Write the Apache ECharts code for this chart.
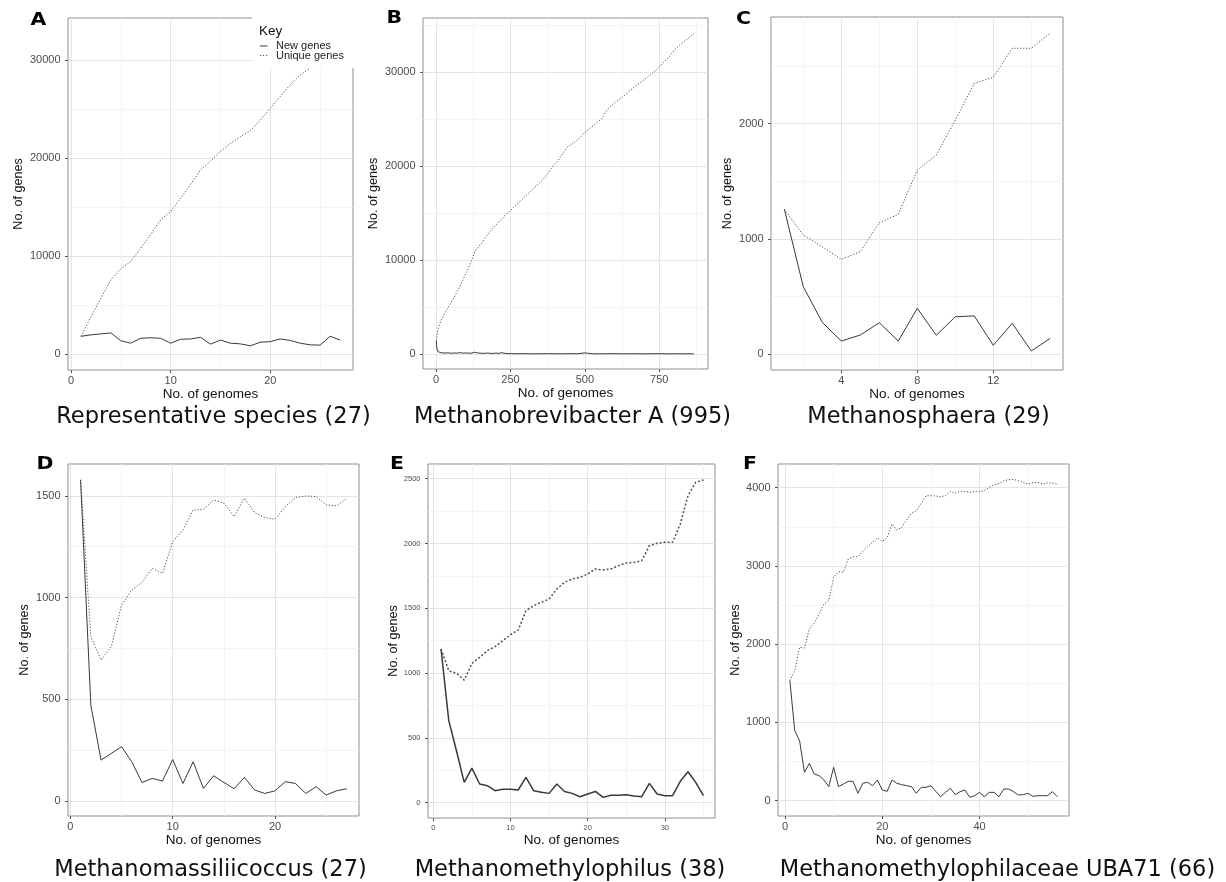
<!DOCTYPE html>
<html>
<head>
<meta charset="utf-8">
<script src="https://cdn.jsdelivr.net/npm/echarts@6/dist/echarts.min.js"></script>
<style>
  html, body { margin: 0; padding: 0; background: #fff; }
  #chart { width: 1226px; height: 882px; }
</style>
</head>
<body>
<div id="chart"></div>
<script>
// ---------------- data ----------------
const titles = [
  'Representative species (27)',
  'Methanobrevibacter A (995)',
  'Methanosphaera (29)',
  'Methanomassiliicoccus (27)',
  'Methanomethylophilus (38)',
  'Methanomethylophilaceae UBA71 (66)'
];
const letters = ['A', 'B', 'C', 'D', 'E', 'F'];
const seriesNames = ['New genes', 'Unique genes'];

// A: representative species, genomes 1..27
const repNew = [1800, 1950, 2050, 2150, 1350, 1100, 1600, 1650, 1600, 1100, 1500, 1530, 1700, 1000, 1420,
  1100, 1030, 830, 1200, 1260, 1530, 1380, 1100, 930, 900, 1800, 1420];
const repUnique = [1800, 3800, 5700, 7550, 8700, 9450, 10800, 12200, 13700, 14550, 15900, 17300, 18800, 19700,
  20700, 21500, 22200, 22800, 23900, 25100, 26300, 27500, 28500, 29200, 30600, 32000, 33400];

// B: Methanobrevibacter A
const mbaUniqueGenomes = [1, 5, 10, 20, 30, 45, 60, 75, 90, 105, 120, 130, 140, 155, 170, 185, 200, 215, 230, 245,
  260, 280, 300, 320, 340, 360, 375, 392, 410, 425, 440, 460, 480, 500, 520, 540, 556, 575, 600, 625,
  650, 675, 700, 720, 740, 760, 780, 800, 820, 840, 866];
const mbaUnique = [1450, 2400, 3000, 3800, 4400, 5200, 6000, 6900, 7900, 8900, 10000, 10900, 11300, 11900, 12600,
  13200, 13700, 14200, 14700, 15100, 15600, 16200, 16800, 17400, 18000, 18600, 19200, 20000, 20600, 21300,
  22000, 22400, 22900, 23600, 24100, 24600, 25000, 26000, 26700, 27300, 28000, 28600, 29200, 29700, 30200,
  30900, 31500, 32300, 32900, 33400, 34100];
const mbaNewGenomes = [1, 2, 3, 4, 6, 8, 12, 16, 20, 30, 40, 50, 60, 70, 80, 90, 100, 110, 120, 130, 140, 150, 160,
  170, 180, 190, 200, 210, 220, 235, 250, 275, 300, 325, 350, 375, 400, 425, 450, 475, 500, 525, 550, 575,
  600, 625, 650, 675, 700, 725, 750, 775, 800, 825, 850, 866];
const mbaNew = [1450, 1000, 650, 450, 300, 240, 200, 170, 150, 130, 160, 110, 140, 120, 180, 120, 150, 110, 130,
  220, 140, 120, 100, 130, 110, 90, 120, 100, 170, 80, 70, 60, 70, 50, 60, 70, 60, 50, 70, 60, 150, 60, 50,
  60, 70, 50, 60, 60, 50, 60, 70, 50, 60, 50, 60, 40];

// C: Methanosphaera, genomes 1..15
const msphNew = [1260, 586, 277, 115, 167, 274, 115, 399, 165, 326, 333, 78, 269, 29, 139];
const msphUnique = [1258, 1035, 933, 824, 890, 1141, 1214, 1598, 1728, 2032, 2350, 2402, 2654, 2654, 2784];

// D: Methanomassiliicoccus, genomes 1..27
const mmasNew = [1579, 471, 200, 233, 266, 192, 90, 110, 97, 203, 85, 192, 61, 123, 90, 59, 115, 53, 36, 49,
  94, 85, 36, 69, 28, 49, 59];
const mmasUnique = [1579, 807, 692, 758, 963, 1037, 1075, 1144, 1119, 1275, 1333, 1431, 1434, 1480, 1464, 1398,
  1488, 1418, 1393, 1385, 1447, 1492, 1500, 1497, 1456, 1451, 1488];

// E: Methanomethylophilus, genomes 1..35
const mmetNew = [1186, 633, 401, 157, 267, 144, 131, 93, 103, 103, 98, 195, 93, 80, 72, 144, 87, 72, 46, 67,
  87, 41, 57, 57, 62, 51, 46, 149, 67, 54, 54, 165, 239, 157, 54];
const mmetUnique = [1186, 1018, 998, 946, 1075, 1121, 1173, 1204, 1250, 1296, 1332, 1481, 1520, 1546, 1571, 1649,
  1700, 1726, 1739, 1764, 1803, 1795, 1803, 1829, 1849, 1854, 1867, 1983, 2001, 2009, 2009, 2150, 2369,
  2472, 2490];

// F: Methanomethylophilaceae UBA71, genomes 1..56
const ubaNew = [1534, 895, 767, 362, 477, 341, 320, 264, 179, 426, 179, 213, 247, 247, 94, 222, 234, 192, 264,
  136, 119, 264, 222, 204, 192, 179, 94, 170, 170, 192, 119, 51, 106, 158, 77, 115, 136, 43, 64, 106, 51,
  106, 106, 51, 149, 149, 115, 72, 77, 94, 55, 64, 64, 64, 115, 51];
const ubaUnique = [1534, 1661, 1960, 1951, 2194, 2266, 2386, 2513, 2556, 2854, 2927, 2918, 3089, 3118, 3118,
  3186, 3246, 3302, 3357, 3314, 3357, 3536, 3459, 3493, 3587, 3672, 3706, 3800, 3898, 3898, 3894, 3885,
  3898, 3953, 3928, 3953, 3953, 3940, 3953, 3953, 3962, 4004, 4038, 4055, 4090, 4102, 4107, 4090, 4068,
  4047, 4064, 4068, 4047, 4064, 4060, 4047];

// major tick values of each panel
const repXTicks = [0, 10, 20], repYTicks = [0, 10000, 20000, 30000];
const mbaXTicks = [0, 250, 500, 750], mbaYTicks = [0, 10000, 20000, 30000];
const msphXTicks = [4, 8, 12], msphYTicks = [0, 1000, 2000];
const mmasXTicks = [0, 10, 20], mmasYTicks = [0, 500, 1000, 1500];
const mmetXTicks = [0, 10, 20, 30], mmetYTicks = [0, 500, 1000, 1500, 2000, 2500];
const ubaXTicks = [0, 20, 40], ubaYTicks = [0, 1000, 2000, 3000, 4000];

// ---------------- helpers ----------------
const seq = (vals) => vals.map((v, i) => [i + 1, v]);
const zip = (xs, ys) => xs.map((x, i) => [x, ys[i]]);

// grid lines halfway between the labelled ones
function minorsOf(major, min, max) {
  const step = major[1] - major[0];
  const out = [];
  for (let v = major[0] - step / 2; v <= max; v += step) if (v >= min) out.push(v);
  return out;
}

// ---------------- layout ----------------
const panels = [
  { left: 68, top: 18, width: 285, height: 352, x: [-0.3, 28.3], y: [-1640, 34320],
    xt: repXTicks, yt: repYTicks, yGap: 43, xGap: 16, font: 11, xMargin: 5,
    data: [seq(repNew), seq(repUnique)] },
  { left: 423, top: 18, width: 285, height: 351, x: [-43.7, 913.6], y: [-1562, 35738],
    xt: mbaXTicks, yt: mbaYTicks, yGap: 43, xGap: 16, font: 11, xMargin: 5,
    data: [zip(mbaNewGenomes, mbaNew), zip(mbaUniqueGenomes, mbaUnique)] },
  { left: 771, top: 17, width: 292, height: 353, x: [0.3, 15.67], y: [-136, 2925],
    xt: msphXTicks, yt: msphYTicks, yGap: 37, xGap: 16, font: 11, xMargin: 5,
    data: [seq(msphNew), seq(msphUnique)] },
  { left: 68, top: 464, width: 291, height: 352, x: [-0.23, 28.2], y: [-75, 1657],
    xt: mmasXTicks, yt: mmasYTicks, yGap: 36.5, xGap: 16.5, font: 11, xMargin: 5,
    data: [seq(mmasNew), seq(mmasUnique)] },
  { left: 428, top: 464, width: 287, height: 354, x: [-0.69, 36.5], y: [-118, 2613],
    xt: mmetXTicks, yt: mmetYTicks, yGap: 24, xGap: 14.5, font: 7.5, xMargin: 6, bold: true,
    data: [seq(mmetNew), seq(mmetUnique)] },
  { left: 778, top: 464, width: 291, height: 352, x: [-1.44, 58.4], y: [-196, 4303],
    xt: ubaXTicks, yt: ubaYTicks, yGap: 36, xGap: 16.5, font: 11, xMargin: 5,
    data: [seq(ubaNew), seq(ubaUnique)] }
];

const titlePos = [[213.5, 417.5], [572.5, 417.5], [928.5, 417.5], [210.5, 870], [570, 870], [997.5, 870]];
const letterPos = [[30.5, 21], [386.5, 18.5], [736, 19.2], [36.5, 465], [390, 464.5], [743, 464.5]];

const lineStyles = {
  solid: { color: '#3a3a3a', dash: null },
  dotted: { color: '#505050', dash: [1.2, 1.8] }
};

const grids = [], xAxes = [], yAxes = [], series = [];

panels.forEach((p, i) => {
  grids.push({
    left: p.left, top: p.top, width: p.width, height: p.height,
    show: true, borderColor: '#8f8f8f', borderWidth: 1,
    containLabel: false, outerBoundsMode: 'none'
  });

  const axisFor = (dim) => {
    const isX = dim === 'x';
    const range = isX ? p.x : p.y;
    const ticks = isX ? p.xt : p.yt;
    return [{
      type: 'value', gridIndex: i, min: range[0], max: range[1],
      position: isX ? 'bottom' : 'left',
      axisLine: { show: false, onZero: false },
      axisTick: { show: true, length: 3, lineStyle: { color: '#555', width: 1 }, customValues: ticks },
      axisLabel: {
        show: true, customValues: ticks, margin: isX ? p.xMargin : 7.5,
        color: '#4d4d4d', fontSize: p.font, fontFamily: 'Liberation Sans',
        formatter: (v) => String(v)
      },
      splitLine: { show: true, lineStyle: { color: '#e4e4e4', width: 1 } },
      minorTick: { show: false }, minorSplitLine: { show: false },
      name: isX ? 'No. of genomes' : 'No. of genes',
      nameLocation: 'middle', nameGap: isX ? p.xGap : p.yGap,
      nameTextStyle: { color: '#111', fontSize: isX ? 13.5 : 12.6, fontFamily: 'Liberation Sans' },
      silent: true
    }, {
      type: 'value', gridIndex: i, min: range[0], max: range[1],
      position: isX ? 'top' : 'right',
      axisLine: { show: false, onZero: false },
      axisTick: { show: false, customValues: minorsOf(ticks, range[0], range[1]) },
      axisLabel: { show: false, customValues: minorsOf(ticks, range[0], range[1]) },
      splitLine: { show: true, lineStyle: { color: '#f1f1f1', width: 0.8 } },
      silent: true
    }];
  };
  xAxes.push(...axisFor('x'));
  yAxes.push(...axisFor('y'));

  const w = p.bold ? 1.5 : 1;
  series.push({
    type: 'line', name: seriesNames[0], data: p.data[0],
    xAxisIndex: 2 * i, yAxisIndex: 2 * i,
    symbol: 'none', showSymbol: false, silent: true, animation: false,
    color: lineStyles.solid.color,
    lineStyle: { color: lineStyles.solid.color, width: w, type: 'solid' }
  }, {
    type: 'line', name: seriesNames[1], data: p.data[1],
    xAxisIndex: 2 * i, yAxisIndex: 2 * i,
    symbol: 'none', showSymbol: false, silent: true, animation: false,
    color: lineStyles.dotted.color,
    lineStyle: { color: lineStyles.dotted.color, width: w, type: p.bold ? [2, 2] : lineStyles.dotted.dash }
  });
});

const graphics = [];
titles.forEach((t, i) => {
  graphics.push({
    type: 'text', x: titlePos[i][0], y: titlePos[i][1], silent: true,
    style: { text: t, fill: '#111', font: '22.5px "DejaVu Sans"', textAlign: 'center', textVerticalAlign: 'middle' }
  });
});
letters.forEach((t, i) => {
  graphics.push({
    type: 'text', x: letterPos[i][0], y: letterPos[i][1], scaleX: 1.2, silent: true,
    style: { text: t, fill: '#000', font: 'bold 17px "DejaVu Sans"', textAlign: 'left', textVerticalAlign: 'middle' }
  });
});

// key box laid over the top-right corner of panel A
graphics.push({
  type: 'rect', z: 10, silent: true,
  shape: { x: 252, y: 14, width: 104, height: 54 },
  style: { fill: '#fff' }
});
graphics.push({
  type: 'text', z: 21, x: 259, y: 31.5, silent: true,
  style: { text: 'Key', fill: '#111', font: '13.5px "Liberation Sans"', textAlign: 'left', textVerticalAlign: 'middle' }
});
[['solid', 46], ['dotted', 55.5]].forEach(([kind, y], k) => {
  const st = lineStyles[kind];
  graphics.push({
    type: 'line', z: 21, silent: true,
    shape: { x1: 260, y1: y, x2: 267.5, y2: y },
    style: { stroke: st.color, lineWidth: 1, lineDash: st.dash }
  });
  graphics.push({
    type: 'text', z: 21, x: 276, y: y, silent: true,
    style: { text: seriesNames[k], fill: '#222', font: '11px "Liberation Sans"', textAlign: 'left', textVerticalAlign: 'middle' }
  });
});

const chart = echarts.init(document.getElementById('chart'), null, { renderer: 'canvas' });
chart.setOption({
  animation: false,
  backgroundColor: '#fff',
  grid: grids,
  xAxis: xAxes,
  yAxis: yAxes,
  series: series,
  graphic: graphics
});
</script>
</body>
</html>
